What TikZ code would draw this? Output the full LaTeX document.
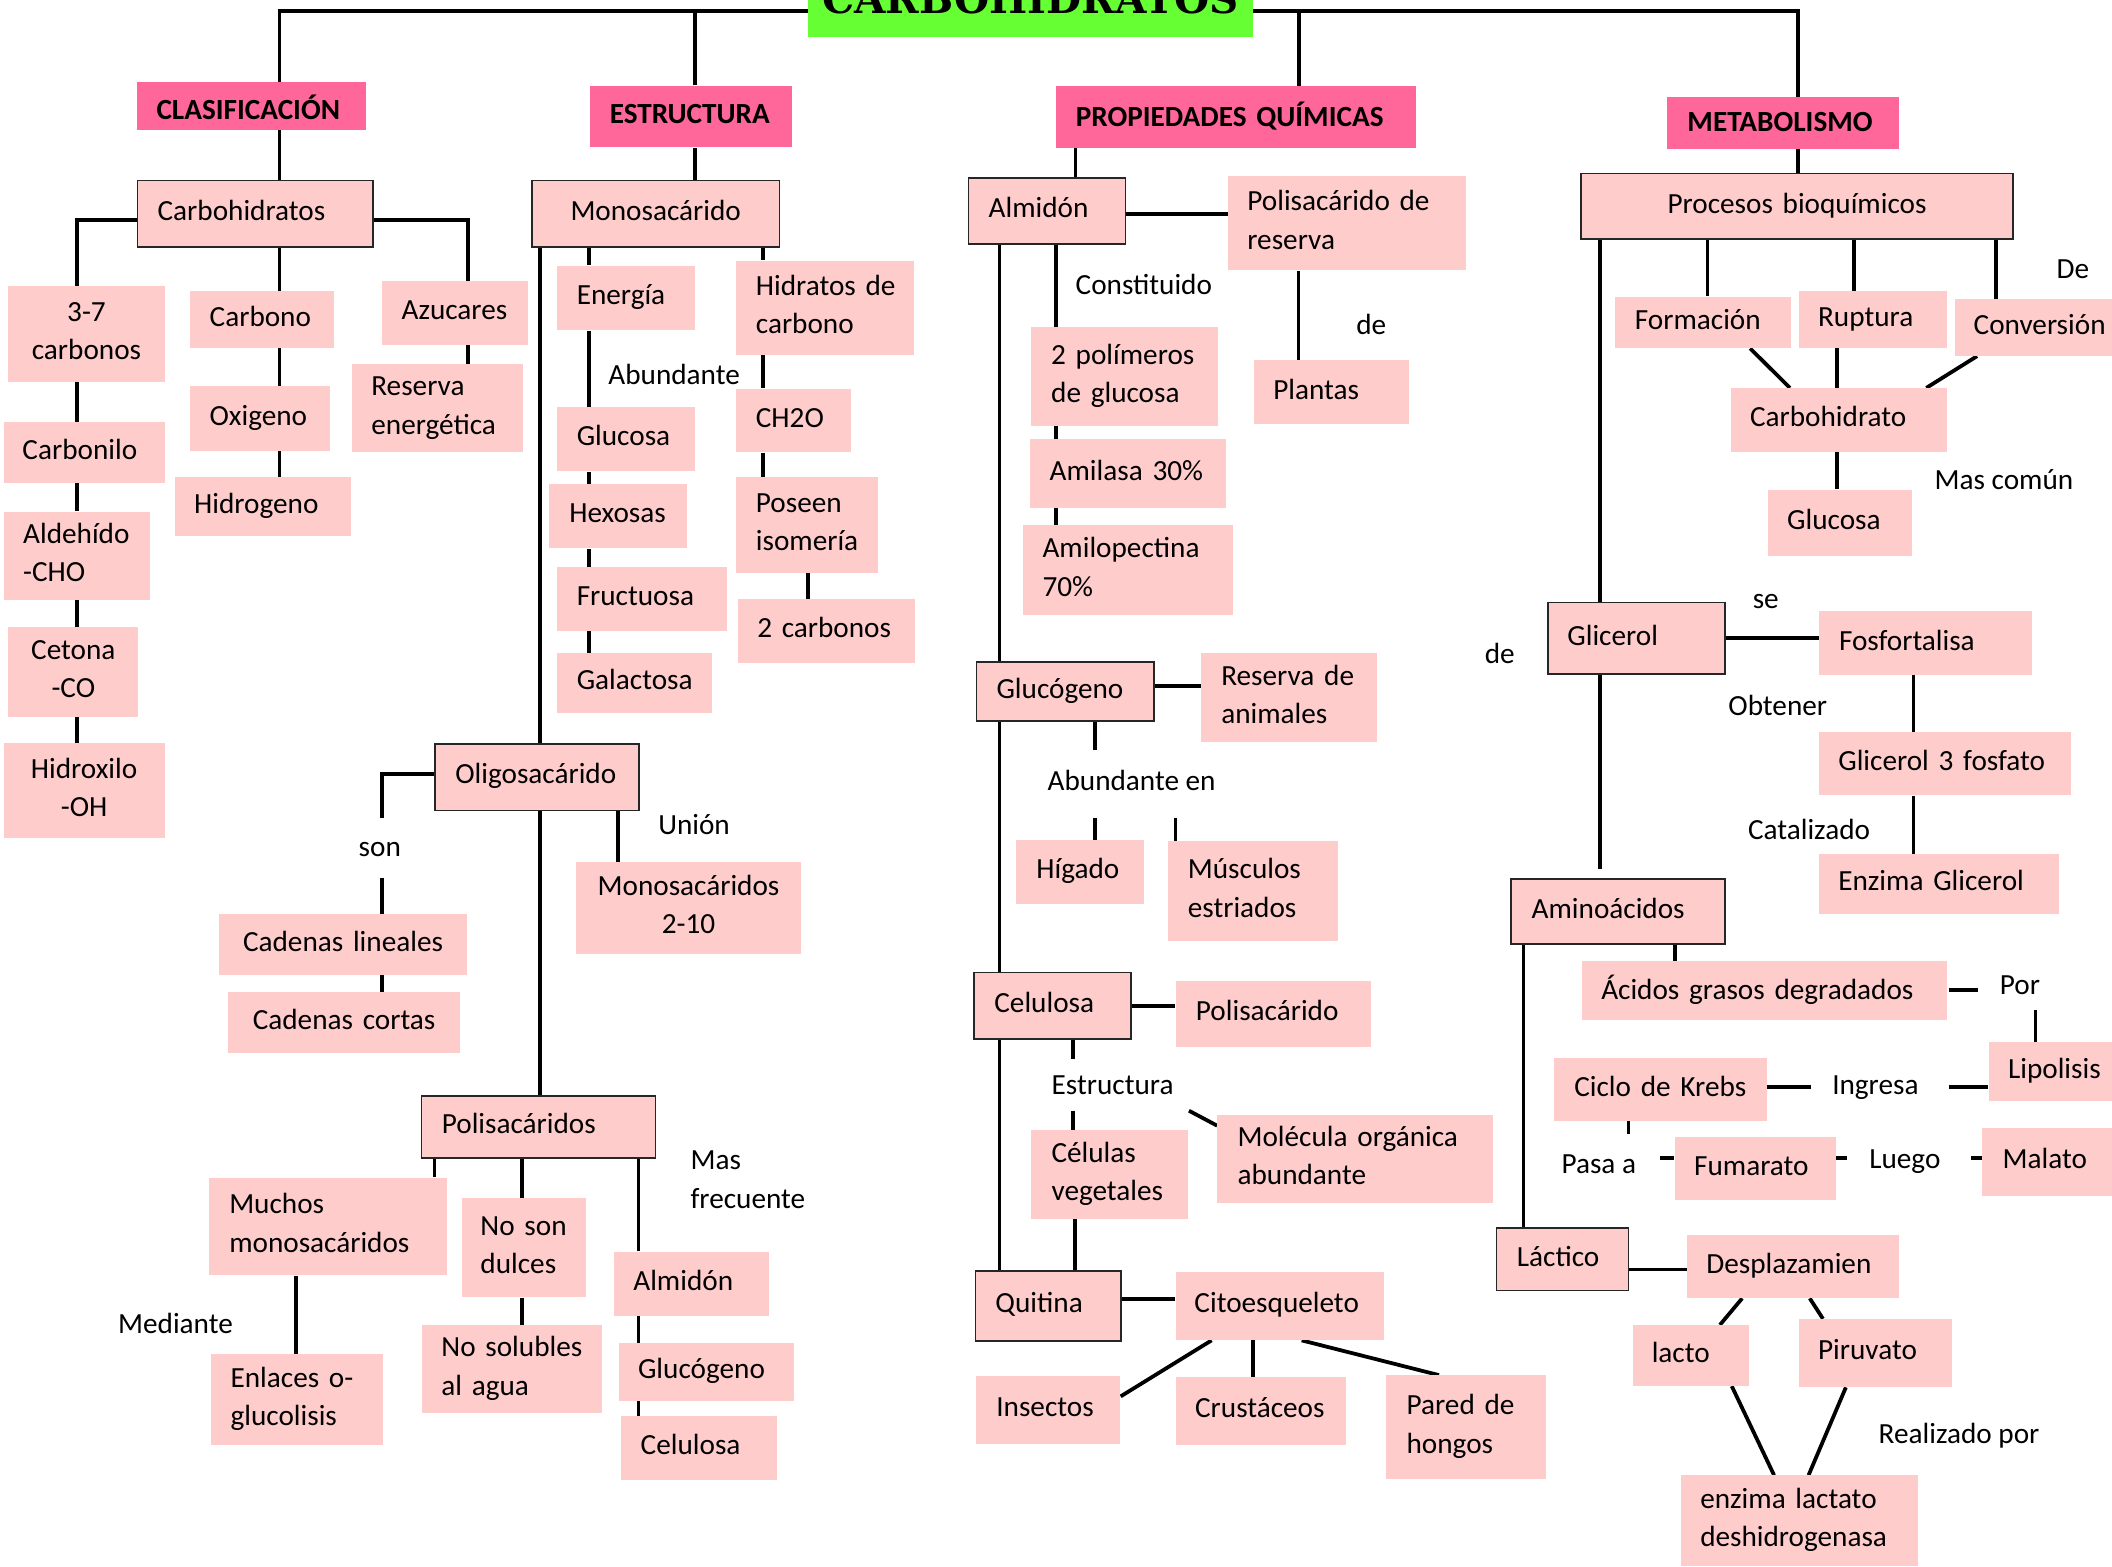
\documentclass[tikz,border=0pt]{standalone}
\usepackage{fontspec}
\setmainfont{Carlito}
\newfontfamily\titlefont{DejaVu Serif}
\usetikzlibrary{backgrounds}
\definecolor{pinkbox}{HTML}{FFCCCC}
\definecolor{hdrpink}{HTML}{FF6699}
\definecolor{titlegreen}{HTML}{66FF33}
\newcommand\st{\rule[-5pt]{0pt}{20pt}}
\newcommand\ins{0pt}
\newcommand\NL{\\\hspace*{\ins}}
% left aligned box: style, name, x1, y1, x2, y2, inset, text
\newcommand\lbox[8]{%
  \pgfmathsetmacro\bxw{#5-#3}%
  \pgfmathsetmacro\bxh{#6-#4}%
  \renewcommand\ins{#7pt}%
  \node[#1, anchor=north west, minimum width=\bxw pt, minimum height=\bxh pt, text width=\bxw pt, inner sep=0pt] (#2) at (#3,#4) {\hspace*{\ins}\st #8\st};
}
% centered box: style, name, x1, y1, x2, y2, text
\newcommand\cbox[7]{%
  \pgfmathsetmacro\bxw{#5-#3}%
  \pgfmathsetmacro\bxh{#6-#4}%
  \node[#1, anchor=north west, minimum width=\bxw pt, minimum height=\bxh pt, text width=\bxw pt, inner sep=0pt] (#2) at (#3,#4) {\st #7\st};
}
\tikzset{
  basefont/.style={font=\fontsize{21.7}{28.5}\selectfont, text=black},
  pb/.style={basefont, fill=pinkbox, align=left},
  pbc/.style={basefont, fill=pinkbox, align=center},
  bb/.style={basefont, fill=pinkbox, draw=black!85, line width=1.1pt, align=left},
  bbc/.style={bb, align=center},
  hb/.style={fill=hdrpink, text=black, font=\fontsize{21.7}{28.5}\selectfont\bfseries, align=left},
  lbl/.style={basefont, inner sep=0pt, anchor=base west},
  conn/.style={line width=2.8pt, black},
}
\begin{document}
\begin{tikzpicture}[x=1pt,y=-1pt]
\useasboundingbox (0,0) rectangle (1568,1163);
% ---------- title ----------
\node[fill=titlegreen, anchor=south west, minimum width=330pt, minimum height=58pt, inner sep=0pt,
      font=\titlefont\bfseries\fontsize{30}{30}\selectfont] (title) at (600,28) {CARBOHIDRATOS};
% ---------- headers ----------
\lbox{hb}{clas}{101.5}{60.7}{271.5}{96}{14.5}{\raisebox{-5.5pt}[0pt][0pt]{CLASIFICACIÓN}}
\lbox{hb}{estr}{437.5}{63.3}{587.5}{109.3}{15}{ESTRUCTURA}
\lbox{hb}{prop}{783.5}{64}{1051.2}{109.7}{15}{PROPIEDADES QUÍMICAS}
\lbox{hb}{meta}{1237.6}{71.7}{1409.6}{110.3}{15}{\raisebox{-1.5pt}[0pt][0pt]{METABOLISMO}}
% ---------- clasificacion ----------
\lbox{bb}{carbo}{101.5}{133.3}{276.5}{182.7}{15}{Carbohidratos}
\cbox{pbc}{cthree}{6}{212}{122}{283.3}{3-7\\carbonos}
\lbox{pb}{carbonilo}{2.5}{313}{122}{358.3}{14}{Carbonilo}
\lbox{pb}{aldeh}{2.5}{379.7}{111}{445.3}{14.5}{Aldehído\NL-CHO}
\cbox{pbc}{cetona}{6}{465.3}{102.5}{532}{Cetona\\-CO}
\cbox{pbc}{hidrox}{2.5}{551.7}{122}{622.3}{Hidroxilo\\-OH}
\lbox{pb}{carbono}{141}{215.7}{248}{258.3}{14.5}{Carbono}
\lbox{pb}{oxig}{141}{286.7}{244.5}{334.3}{14.5}{Oxigeno}
\lbox{pb}{hidrog}{130}{354}{260.5}{397.7}{14}{Hidrogeno}
\lbox{pb}{azuc}{283.5}{208.3}{392}{256}{14.5}{Azucares}
\lbox{pb}{reserva}{261.5}{270}{388}{335.7}{14}{Reserva\NL energética}
% ---------- estructura ----------
\cbox{bbc}{mono}{394.5}{133.3}{578}{182.7}{Monosacárido}
\lbox{pb}{energia}{413.5}{197}{515.5}{245}{14.5}{Energía}
\lbox{pb}{glucosaA}{413.5}{302}{515.5}{349.7}{14.5}{Glucosa}
\lbox{pb}{hexosas}{407.5}{359}{510}{407}{15}{Hexosas}
\lbox{pb}{fructuosa}{413.5}{420.7}{539.5}{468.3}{14.5}{Fructuosa}
\lbox{pb}{galact}{413.5}{484.7}{528.5}{529}{14.5}{Galactosa}
\lbox{pb}{hidratos}{546.5}{193.3}{678}{263}{14.5}{Hidratos de\NL carbono}
\lbox{pb}{chdos}{546.5}{288.3}{631.5}{335.7}{14.5}{CH2O}
\lbox{pb}{poseen}{546.5}{354}{652}{425}{14.5}{Poseen\NL isomería}
\lbox{pb}{doscarb}{547.5}{444.7}{679}{491.7}{14.5}{2 carbonos}
\lbox{bb}{oligo}{322.5}{551.7}{474}{601}{15}{Oligosacárido}
\cbox{pbc}{cadlin}{162.5}{678.6}{346.5}{723.7}{Cadenas lineales}
\cbox{pbc}{cadcor}{169}{736.4}{341.5}{781.2}{Cadenas cortas}
\cbox{pbc}{monodiez}{427.5}{640}{594.5}{707.7}{Monosacáridos\\2-10}
\lbox{bb}{polis}{312.5}{813.2}{486}{859.2}{15}{Polisacáridos}
\lbox{pb}{muchos}{155}{874}{332}{946.6}{15}{Muchos\NL monosacáridos}
\lbox{pb}{enlaces}{156.5}{1005.3}{284.5}{1072.6}{14.5}{Enlaces o-\NL glucolisis}
\lbox{pb}{nodulces}{342.5}{889.2}{435}{963}{14}{No son\NL dulces}
\lbox{pb}{nosolub}{313}{983.6}{446.5}{1048.8}{14.5}{No solubles\NL al agua}
\lbox{pb}{almidonB}{456}{929}{571}{976.6}{14}{Almidón}
\lbox{pb}{glucogB}{459.5}{997.1}{589}{1039.8}{14}{Glucógeno}
\lbox{pb}{celulB}{461}{1051.3}{577}{1098.5}{14.5}{Celulosa}
% ---------- propiedades ----------
\lbox{bb}{almidon}{718.5}{131.6}{835.2}{180.6}{15}{Almidón}
\lbox{pb}{polres}{911.4}{130.6}{1088.4}{200.5}{14.5}{Polisacárido de\NL reserva}
\lbox{pb}{plantas}{930.6}{267.4}{1046}{314.8}{14.5}{Plantas}
\lbox{pb}{polim}{765.2}{242.9}{904.4}{315.8}{15}{2 polímeros\NL de glucosa}
\lbox{pb}{amilasa}{764.6}{325.8}{909.7}{377.1}{14.5}{Amilasa 30\%}
\lbox{pb}{amilop}{759.3}{389.4}{915}{456.7}{14.5}{Amilopectina\NL 70\%}
\lbox{bb}{glucog}{724.3}{491}{856.1}{534.9}{15}{Glucógeno}
\lbox{pb}{resanim}{891.5}{484.9}{1022.4}{550.3}{15}{Reserva de\NL animales}
\lbox{pb}{higado}{754.3}{623.7}{849.4}{670.9}{15}{Hígado}
\lbox{pb}{musculos}{866.7}{624.3}{993.3}{698.6}{15}{Músculos\NL estriados}
\lbox{bb}{celul}{722.7}{721.6}{839.1}{770.7}{15}{Celulosa}
\lbox{pb}{polisac}{872.7}{728.2}{1017.9}{777.3}{15}{Polisacárido}
\lbox{pb}{celveg}{765.5}{838.8}{881.8}{904.9}{15}{Células\NL vegetales}
\lbox{pb}{molec}{903.6}{827.3}{1107.9}{892.7}{15}{Molécula orgánica\NL abundante}
\lbox{bb}{quitina}{723.5}{943}{831.6}{995.1}{15}{Quitina}
\lbox{pb}{citoesq}{872.6}{944.2}{1027.6}{994.7}{14}{Citoesqueleto}
\lbox{pb}{insectos}{724.5}{1021.3}{831.6}{1071.8}{15}{Insectos}
\lbox{pb}{crust}{872.6}{1022.2}{999.1}{1072.7}{14.5}{Crustáceos}
\lbox{pb}{pared}{1029.1}{1020.9}{1147.6}{1097.7}{15}{Pared de\NL hongos}
% ---------- metabolismo ----------
\cbox{bbc}{procesos}{1173.1}{128.3}{1494.1}{177}{Procesos bioquímicos}
\lbox{pb}{formacion}{1199.1}{220}{1329.6}{258.3}{14.5}{Formación}
\lbox{pb}{ruptura}{1335.1}{215.7}{1445.1}{258.3}{14.5}{Ruptura}
\lbox{pb}{conversion}{1451.1}{221.7}{1580}{264}{14}{Conversión}
\lbox{pb}{carbohid}{1285.1}{288}{1445.1}{335}{14}{Carbohidrato}
\lbox{pb}{glucosaB}{1312.1}{363.3}{1419.6}{412.7}{14.5}{Glucosa}
\lbox{bb}{glicerol}{1148.6}{446.7}{1280.1}{500}{14.5}{Glicerol}
\lbox{pb}{fosfo}{1350.1}{453.7}{1508.6}{501}{15}{Fosfortalisa}
\lbox{pb}{gtresf}{1350.1}{543.5}{1537.1}{590.3}{14.5}{Glicerol 3 fosfato}
\lbox{pb}{enzgli}{1350.1}{633.8}{1528.6}{678.2}{14.5}{Enzima Glicerol}
\lbox{bb}{amino}{1121.1}{651.9}{1280.1}{700.3}{15.5}{Aminoácidos}
\lbox{pb}{acidos}{1174.1}{713.5}{1445.1}{757}{14.5}{Ácidos grasos degradados}
\lbox{pb}{lipolisis}{1476.1}{773.4}{1580}{817.3}{14.5}{Lipolisis}
\lbox{pb}{krebs}{1153.6}{785.3}{1311.6}{831.7}{15}{Ciclo de Krebs}
\lbox{pb}{fumarato}{1243.1}{844}{1362.6}{890.4}{14.5}{Fumarato}
\lbox{pb}{malato}{1471.6}{837}{1580}{888}{15}{Malato}
\lbox{bb}{lactico}{1110.6}{911.3}{1208.6}{957.7}{15}{Láctico}
\lbox{pb}{desplaz}{1252.1}{916.7}{1409.6}{963.5}{14.5}{Desplazamien}
\lbox{pb}{lacto}{1212.1}{983.6}{1298.1}{1028.7}{14}{lacto}
\lbox{pb}{piruvato}{1335.1}{979.1}{1449.1}{1029.6}{14.5}{Piruvato}
\lbox{pb}{enzlac}{1247.6}{1095.2}{1423.6}{1162.1}{14.5}{enzima lactato\NL deshidrogenasa}
% ---------- labels ----------
\node[lbl] (lAbund) at (451.5,285.5) {Abundante};
\node[lbl, anchor=base] (lSon) at (282,636) {son};
\node[lbl] (lUnion) at (488.5,619.5) {Unión};
\node[basefont, inner sep=0pt, anchor=north west, align=left] (lMasF) at (512.5,853.2) {\st Mas\\frecuente\st};
\node[lbl] (lMediante) at (87.5,989.7) {Mediante};
\node[lbl] (lConst) at (798.4,218.4) {Constituido};
\node[lbl] (lDeA) at (1006.8,248.3) {de};
\node[lbl] (lAbEn) at (777.6,586.7) {Abundante en};
\node[lbl] (lEstr) at (780.6,812.5) {Estructura};
\node[lbl] (lDe) at (1526.6,207) {De};
\node[lbl] (lMasC) at (1436.1,363.7) {Mas común};
\node[lbl] (lSe) at (1301.1,452) {se};
\node[lbl] (lDeB) at (1102.1,492.7) {de};
\node[lbl] (lObt) at (1283,531) {Obtener};
\node[lbl] (lCat) at (1297.6,623.2) {Catalizado};
\node[lbl] (lPor) at (1484.6,738.1) {Por};
\node[lbl] (lIngr) at (1360.1,812.8) {Ingresa};
\node[lbl] (lPasa) at (1159.1,871.5) {Pasa a};
\node[lbl] (lLuego) at (1387.6,867.4) {Luego};
\node[lbl] (lReal) at (1394.6,1071.4) {Realizado por};
% ---------- connectors ----------
\begin{pgfonlayer}{background}
% top
\draw[conn] (clas.north -| 207.5,0) -- (207.5,8) -- (1334.6,8) -- (meta.north -| 1334.6,0);
\draw[conn] (estr.north -| 516,0) -- (516,8);
\draw[conn] (prop.north -| 964.6,0) -- (964.6,8);
% clasificacion
\draw[conn] (clas.south -| 207.5,0) -- (carbo.north -| 207.5,0);
\draw[conn] (carbo.west |- 0,163.3) -| (cthree.north -| 57,0);
\draw[conn] (carbo.east |- 0,163.3) -| (azuc.north -| 347.5,0);
\draw[conn] (carbo.south -| 207.5,0) -- (carbono.north -| 207.5,0);
\draw[conn] (cthree.south -| 57,0) -- (carbonilo.north -| 57,0);
\draw[conn] (carbonilo.south -| 57,0) -- (aldeh.north -| 57,0);
\draw[conn] (aldeh.south -| 57,0) -- (cetona.north -| 57,0);
\draw[conn] (cetona.south -| 57,0) -- (hidrox.north -| 57,0);
\draw[conn] (carbono.south -| 207.5,0) -- (oxig.north -| 207.5,0);
\draw[conn] (oxig.south -| 207.5,0) -- (hidrog.north -| 207.5,0);
\draw[conn] (azuc.south -| 347.5,0) -- (reserva.north -| 347.5,0);
% estructura
\draw[conn] (estr.south -| 516,0) -- (mono.north -| 516,0);
\draw[conn] (mono.south -| 401,0) -- (polis.north -| 401,0);
\draw[conn] (mono.south -| 437,0) -- (energia.north -| 437,0);
\draw[conn] (energia.south -| 437,0) -- (glucosaA.north -| 437,0);
\draw[conn] (glucosaA.south -| 437,0) -- (hexosas.north -| 437,0);
\draw[conn] (hexosas.south -| 437,0) -- (fructuosa.north -| 437,0);
\draw[conn] (fructuosa.south -| 437,0) -- (galact.north -| 437,0);
\draw[conn] (mono.south -| 566.5,0) -- (hidratos.north -| 566.5,0);
\draw[conn] (hidratos.south -| 566.5,0) -- (chdos.north -| 566.5,0);
\draw[conn] (chdos.south -| 566.5,0) -- (poseen.north -| 566.5,0);
\draw[conn] (poseen.south -| 600,0) -- (doscarb.north -| 600,0);
\draw[conn] (oligo.west |- 0,574.7) -| (283.5,607.1);
\draw[conn] (283.5,651.5) -- (cadlin.north -| 283.5,0);
\draw[conn] (cadlin.south -| 283.5,0) -- (cadcor.north -| 283.5,0);
\draw[conn] (oligo.south -| 459,0) -- (monodiez.north -| 459,0);
\draw[conn] (polis.south -| 322.5,0) -- (muchos.north -| 322.5,0);
\draw[conn] (polis.south -| 387.5,0) -- (nodulces.north -| 387.5,0);
\draw[conn] (polis.south -| 474,0) -- (almidonB.north -| 474,0);
\draw[conn] (muchos.south -| 220,0) -- (enlaces.north -| 220,0);
\draw[conn] (nodulces.south -| 387.5,0) -- (nosolub.north -| 387.5,0);
\draw[conn] (almidonB.south -| 474,0) -- (glucogB.north -| 474,0);
\draw[conn] (glucogB.south -| 474,0) -- (celulB.north -| 474,0);
% propiedades
\draw[conn] (prop.south -| 798.4,0) -- (almidon.north -| 798.4,0);
\draw[conn] (almidon.east |- 0,159) -- (polres.west |- 0,159);
\draw[conn] (polres.south -| 964.1,0) -- (plantas.north -| 964.1,0);
\draw[conn] (almidon.south -| 783.8,0) -- (polim.north -| 783.8,0);
\draw[conn] (polim.south -| 783.8,0) -- (amilasa.north -| 783.8,0);
\draw[conn] (amilasa.south -| 783.8,0) -- (amilop.north -| 783.8,0);
\draw[conn] (almidon.south -| 742,0) -- (glucog.north -| 742,0);
\draw[conn] (glucog.south -| 742,0) -- (celul.north -| 742,0);
\draw[conn] (celul.south -| 742,0) -- (quitina.north -| 742,0);
\draw[conn] (glucog.east |- 0,509.1) -- (resanim.west |- 0,509.1);
\draw[conn] (glucog.south -| 813,0) -- (813,557);
\draw[conn] (813,607) -- (higado.north -| 813,0);
\draw[conn] (872.7,607) -- (musculos.north -| 872.7,0);
\draw[conn] (celul.east |- 0,747) -- (polisac.west |- 0,747);
\draw[conn] (celul.south -| 796.7,0) -- (796.7,786);
\draw[conn] (796.7,824.6) -- (celveg.north -| 796.7,0);
\draw[conn] (882.7,824.6) -- (molec.west |- 0,835.7);
\draw[conn] (celveg.south -| 797.9,0) -- (quitina.north -| 797.9,0);
\draw[conn] (quitina.east |- 0,964.3) -- (citoesq.west |- 0,964.3);
\draw[conn] (citoesq.south -| 899.5,0) -- (insectos.east |- 0,1036.7);
\draw[conn] (citoesq.south -| 930.1,0) -- (crust.north -| 930.1,0);
\draw[conn] (citoesq.south -| 966.4,0) -- (pared.north -| 1068.3,0);
% metabolismo
\draw[conn] (meta.south -| 1334.6,0) -- (procesos.north -| 1334.6,0);
\draw[conn] (procesos.south -| 1267.6,0) -- (formacion.north -| 1267.6,0);
\draw[conn] (procesos.south -| 1376.6,0) -- (ruptura.north -| 1376.6,0);
\draw[conn] (procesos.south -| 1481.6,0) -- (conversion.north -| 1481.6,0);
\draw[conn] (procesos.south -| 1187.6,0) -- (glicerol.north -| 1187.6,0);
\draw[conn] (formacion.south -| 1299.4,0) -- (carbohid.north -| 1328.9,0);
\draw[conn] (ruptura.south -| 1363.6,0) -- (carbohid.north -| 1363.6,0);
\draw[conn] (conversion.south -| 1467.8,0) -- (carbohid.north -| 1430.1,0);
\draw[conn] (carbohid.south -| 1363.6,0) -- (glucosaB.north -| 1363.6,0);
\draw[conn] (glicerol.east |- 0,473.7) -- (fosfo.west |- 0,473.7);
\draw[conn] (fosfo.south -| 1420.6,0) -- (gtresf.north -| 1420.6,0);
\draw[conn] (gtresf.south -| 1420.6,0) -- (enzgli.north -| 1420.6,0);
\draw[conn] (glicerol.south -| 1187.6,0) -- (1187.6,644.9);
\draw[conn] (amino.south -| 1131.1,0) -- (lactico.north -| 1131.1,0);
\draw[conn] (amino.south -| 1243.6,0) -- (acidos.north -| 1243.6,0);
\draw[conn] (1446.6,735.2) -- (1468.6,735.2);
\draw[conn] (1511.1,749.6) -- (lipolisis.north -| 1511.1,0);
\draw[conn] (krebs.east |- 0,807.1) -- (1344.6,807.1);
\draw[conn] (1446.6,807.1) -- (lipolisis.west |- 0,807.1);
\draw[conn] (krebs.south -| 1209.1,0) -- (1209.1,842);
\draw[conn] (1232.6,859.6) -- (fumarato.west |- 0,859.6);
\draw[conn] (fumarato.east |- 0,859.6) -- (1371.6,859.6);
\draw[conn] (1463.6,859.6) -- (malato.west |- 0,859.6);
\draw[conn] (lactico.east |- 0,942.5) -- (desplaz.west |- 0,942.5);
\draw[conn] (desplaz.south -| 1293.4,0) -- (lacto.north -| 1276.9,0);
\draw[conn] (desplaz.south -| 1343.6,0) -- (piruvato.north -| 1353.4,0);
\draw[conn] (lacto.south -| 1285.7,0) -- (enzlac.north -| 1317.1,0);
\draw[conn] (piruvato.south -| 1370.4,0) -- (enzlac.north -| 1342.7,0);
\end{pgfonlayer}
\end{tikzpicture}
\end{document}
